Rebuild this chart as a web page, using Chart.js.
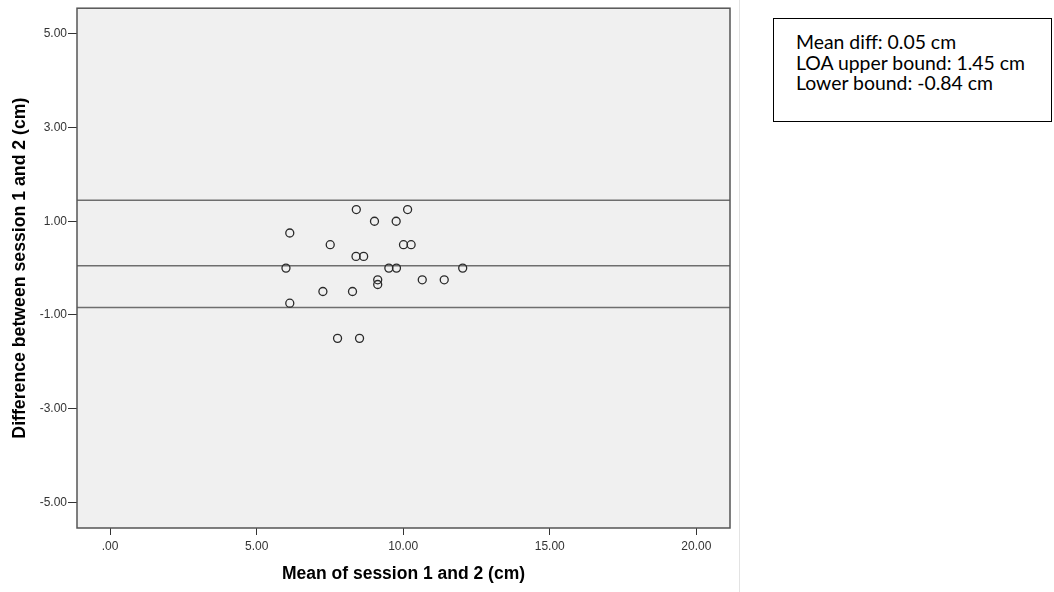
<!DOCTYPE html>
<html>
<head>
<meta charset="utf-8">
<script src="https://cdn.jsdelivr.net/npm/chart.js@4/dist/chart.umd.min.js"></script>
<style>
  html, body { margin: 0; padding: 0; background: #ffffff; }
  #wrap { position: relative; width: 1054px; height: 592px; }
  #c { position: absolute; left: 0; top: 0; }
  #note {
    position: absolute; left: 773px; top: 18px; width: 279px; height: 104px;
    box-sizing: border-box; border: 1.5px solid #000; background: #fff;
    padding: 13px 0 0 22px;
    font-family: Lato, "Open Sans", sans-serif; font-size: 19.4px; line-height: 20.7px; color: #000;
    white-space: nowrap;
  }
</style>
</head>
<body>
<div id="wrap">
  <canvas id="c" width="1054" height="592"></canvas>
  <div id="note">Mean diff: 0.05 cm<br>LOA upper bound: 1.45 cm<br>Lower bound: -0.84 cm</div>
</div>
<script>
// Mean of session 1 and 2 (cm)
const meanValues = [8.40, 10.15, 9.02, 9.76, 6.13, 7.51, 10.01, 10.27, 8.39, 8.65,
                    6.00, 9.51, 9.77, 12.03, 9.13, 9.13, 10.65, 11.40, 7.26, 8.27,
                    6.13, 7.76, 8.51];
// Difference between session 1 and 2 (cm)
const diffValues = [1.25, 1.25, 1.00, 1.00, 0.75, 0.50, 0.50, 0.50, 0.25, 0.25,
                    0.00, 0.00, 0.00, 0.00, -0.25, -0.35, -0.25, -0.25, -0.50, -0.50,
                    -0.75, -1.50, -1.50];
const meanDiff = 0.05;
const upperLOA = 1.45;
const lowerLOA = -0.84;
const xTicks = [0, 5, 10, 15, 20];
const yTicks = [-5, -3, -1, 1, 3, 5];
const xRange = [-1.13, 21.15];
const yRange = [-5.55, 5.55];

const fmt = v => { const s = Number(v).toFixed(2); return s.startsWith('0.') ? s.slice(1) : s; };

const refLine = (y) => ({
  type: 'line',
  data: [{x: xRange[0], y: y}, {x: xRange[1], y: y}],
  borderColor: '#6e6e6e', borderWidth: 1.6, pointRadius: 0, fill: false, order: 2
});

const plotDecor = {
  id: 'plotDecor',
  beforeDraw(chart) {
    const {ctx, chartArea: a} = chart;
    ctx.save();
    ctx.fillStyle = '#f0f0f0';
    ctx.fillRect(a.left, a.top, a.right - a.left, a.bottom - a.top);
    ctx.restore();
  },
  afterDraw(chart) {
    const {ctx, chartArea: a} = chart;
    ctx.save();
    ctx.strokeStyle = '#555555';
    ctx.lineWidth = 1.5;
    ctx.strokeRect(a.left, a.top, a.right - a.left, a.bottom - a.top);
    ctx.strokeStyle = '#e3e3e3';
    ctx.lineWidth = 1;
    ctx.beginPath();
    ctx.moveTo(739.5, 0); ctx.lineTo(739.5, 592);
    ctx.stroke();
    ctx.restore();
  }
};

new Chart(document.getElementById('c'), {
  type: 'scatter',
  data: {
    datasets: [
      {
        data: meanValues.map((m, i) => ({x: m, y: diffValues[i]})),
        pointRadius: 4, pointHoverRadius: 4,
        pointBorderColor: '#2a2a2a', pointBorderWidth: 1.3,
        pointBackgroundColor: 'rgba(0,0,0,0)', order: 1
      },
      refLine(upperLOA), refLine(meanDiff), refLine(lowerLOA)
    ]
  },
  options: {
    responsive: false, animation: false,
    layout: { padding: { top: 7, right: 324, left: 0, bottom: 0 } },
    plugins: { legend: { display: false }, tooltip: { enabled: false } },
    scales: {
      x: {
        type: 'linear', min: xRange[0], max: xRange[1],
        afterBuildTicks: s => { s.ticks = xTicks.map(v => ({value: v})); },
        afterFit: s => { s.height = 64; },
        grid: { drawOnChartArea: false, drawTicks: true, tickLength: 7, color: '#333', lineWidth: 1 },
        border: { display: false },
        ticks: { callback: fmt, padding: 4, color: '#333', maxRotation: 0,
                 font: { family: 'Liberation Sans, Arial, sans-serif', size: 12 } },
        title: { display: true, text: 'Mean of session 1 and 2 (cm)', color: '#000',
                 padding: { top: 0, bottom: 7.5 },
                 font: { family: 'Liberation Sans, Arial, sans-serif', size: 17.5, weight: 'bold' } }
      },
      y: {
        type: 'linear', min: yRange[0], max: yRange[1],
        afterBuildTicks: s => { s.ticks = yTicks.map(v => ({value: v})); },
        afterFit: s => { s.width = 77; },
        grid: { drawOnChartArea: false, drawTicks: true, tickLength: 9, color: '#333', lineWidth: 1 },
        border: { display: false },
        ticks: { callback: fmt, padding: 1, color: '#333',
                 font: { family: 'Liberation Sans, Arial, sans-serif', size: 12 } },
        title: { display: true, text: 'Difference between session 1 and 2 (cm)', color: '#000',
                 padding: { top: 9, bottom: 0 },
                 font: { family: 'Liberation Sans, Arial, sans-serif', size: 17.7, weight: 'bold' } }
      }
    }
  },
  plugins: [plotDecor]
});
</script>
</body>
</html>
